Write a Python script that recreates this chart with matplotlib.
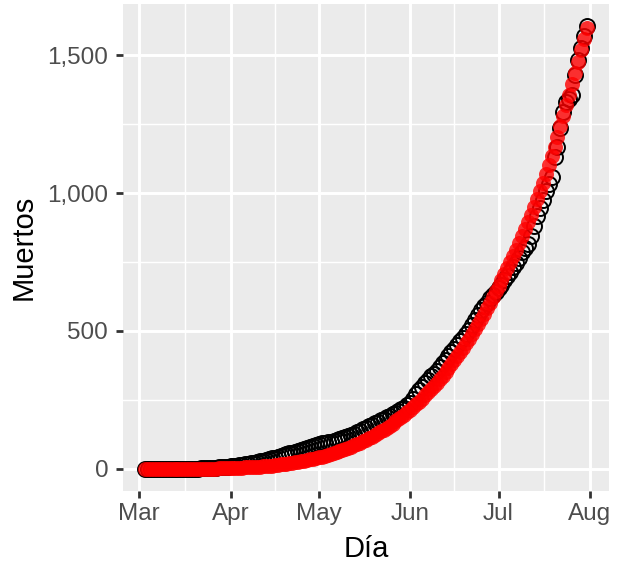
import matplotlib
matplotlib.use("Agg")
import matplotlib.pyplot as plt
import matplotlib.dates as mdates
from matplotlib.ticker import FuncFormatter, MultipleLocator, FixedLocator
import pandas as pd

# muertes acumuladas por dia, desde el 3 de marzo
inicio = "2020-03-03"
muertos = [
    0, 0, 0, 0, 0, 0, 0, 0, 0, 0,
    0, 0, 0, 0, 0, 0, 1, 1, 1, 2,
    2, 3, 3, 4, 4, 5, 6, 7, 8, 9,
    10, 11, 13, 15, 17, 19, 21, 23, 25, 27,
    29, 32, 35, 38, 41, 44, 47, 50, 53, 56,
    59, 62, 65, 68, 72, 75, 78, 82, 86, 90,
    92, 94, 96, 98, 100, 103, 107, 112, 116, 120,
    124, 128, 133, 138, 143, 148, 154, 160, 165, 170,
    176, 182, 188, 192, 198, 204, 210, 216, 222, 230,
    240, 255, 270, 285, 298, 310, 322, 335, 345, 356,
    368, 382, 394, 408, 422, 436, 450, 462, 475, 490,
    505, 520, 538, 558, 577, 590, 603, 618, 630, 642,
    655, 668, 684, 700, 715, 732, 748, 765, 785, 800,
    815, 845, 880, 915, 945, 975, 1008, 1033, 1057, 1130,
    1167, 1234, 1294, 1331, 1340, 1355, 1428, 1483, 1526, 1568,
    1605,
]

# valores del modelo ajustado
ajuste = [
    0, 0, 0, 0, 0, 0, 0, 0, 0, 0,
    0, 0, 0, 0, 0, 0, 0, 0, 0, 1,
    1, 1, 1, 1, 1, 2, 2, 2, 2, 3,
    3, 4, 4, 4, 5, 6, 6, 7, 8, 8,
    9, 10, 11, 12, 13, 15, 16, 17, 19, 20,
    22, 24, 26, 27, 30, 32, 34, 36, 39, 42,
    44, 47, 50, 54, 57, 60, 64, 68, 72, 76,
    81, 85, 90, 95, 100, 106, 111, 117, 123, 129,
    136, 142, 149, 157, 164, 172, 180, 188, 197, 206,
    215, 224, 234, 244, 255, 266, 277, 288, 300, 312,
    325, 338, 351, 365, 379, 393, 408, 424, 439, 455,
    472, 489, 507, 525, 543, 562, 582, 602, 622, 643,
    662, 683, 705, 728, 750, 772, 795, 820, 845, 870,
    896, 922, 950, 978, 1006, 1036, 1068, 1100, 1134, 1168,
    1204, 1242, 1280, 1318, 1357, 1396, 1436, 1476, 1517, 1558,
    1600,
]

dias = pd.date_range(inicio, periods=len(muertos))
dias_ajuste = pd.date_range(inicio, periods=len(ajuste))

plt.rcParams["font.family"] = ["Liberation Sans", "DejaVu Sans"]

fig = plt.figure(figsize=(6.22, 5.62), dpi=100)
ax = fig.add_axes([123 / 622, 1 - 491 / 562, (609 - 123) / 622, (491 - 4) / 562])
ax.set_facecolor("#EBEBEB")
for s in ax.spines.values():
    s.set_visible(False)

ax.plot(dias, muertos, "o", mfc="none", mec="black", ms=10.8, mew=1.4, zorder=3)
ax.plot(dias_ajuste, ajuste, "o", color="red", alpha=0.8, ms=10.8, mew=0, zorder=4)

# limites con 5% de margen, como ggplot
x0 = mdates.date2num(min(dias[0], dias_ajuste[0]))
x1 = mdates.date2num(max(dias[-1], dias_ajuste[-1]))
ax.set_xlim(x0 - 0.05 * (x1 - x0), x1 + 0.05 * (x1 - x0))
y0 = min(min(muertos), min(ajuste))
y1 = max(max(muertos), max(ajuste))
ax.set_ylim(y0 - 0.05 * (y1 - y0), y1 + 0.05 * (y1 - y0))

meses = pd.date_range("2020-02-01", "2020-09-01", freq="MS")
mnum = mdates.date2num(meses)
ax.xaxis.set_major_locator(FixedLocator(mnum))
ax.xaxis.set_major_formatter(mdates.DateFormatter("%b"))
ax.xaxis.set_minor_locator(FixedLocator((mnum[:-1] + mnum[1:]) / 2))
ax.yaxis.set_major_locator(MultipleLocator(500))
ax.yaxis.set_minor_locator(MultipleLocator(250))
ax.yaxis.set_major_formatter(FuncFormatter(lambda v, p: f"{v:,.0f}"))

ax.grid(which="major", color="white", lw=2.1)
ax.grid(which="minor", color="white", lw=1.05)
ax.set_axisbelow(True)

ax.tick_params(which="major", length=4.7, width=2.0, color="#333333",
               labelcolor="#4D4D4D", labelsize=17.5)
ax.tick_params(axis="y", which="major", pad=6)
ax.tick_params(axis="x", which="major", pad=4)
ax.tick_params(which="minor", length=0)

ax.set_xlabel("Día", fontsize=21, labelpad=7)
ax.set_ylabel("Muertos", fontsize=21, labelpad=7)

fig.savefig("out.png", dpi=100)
